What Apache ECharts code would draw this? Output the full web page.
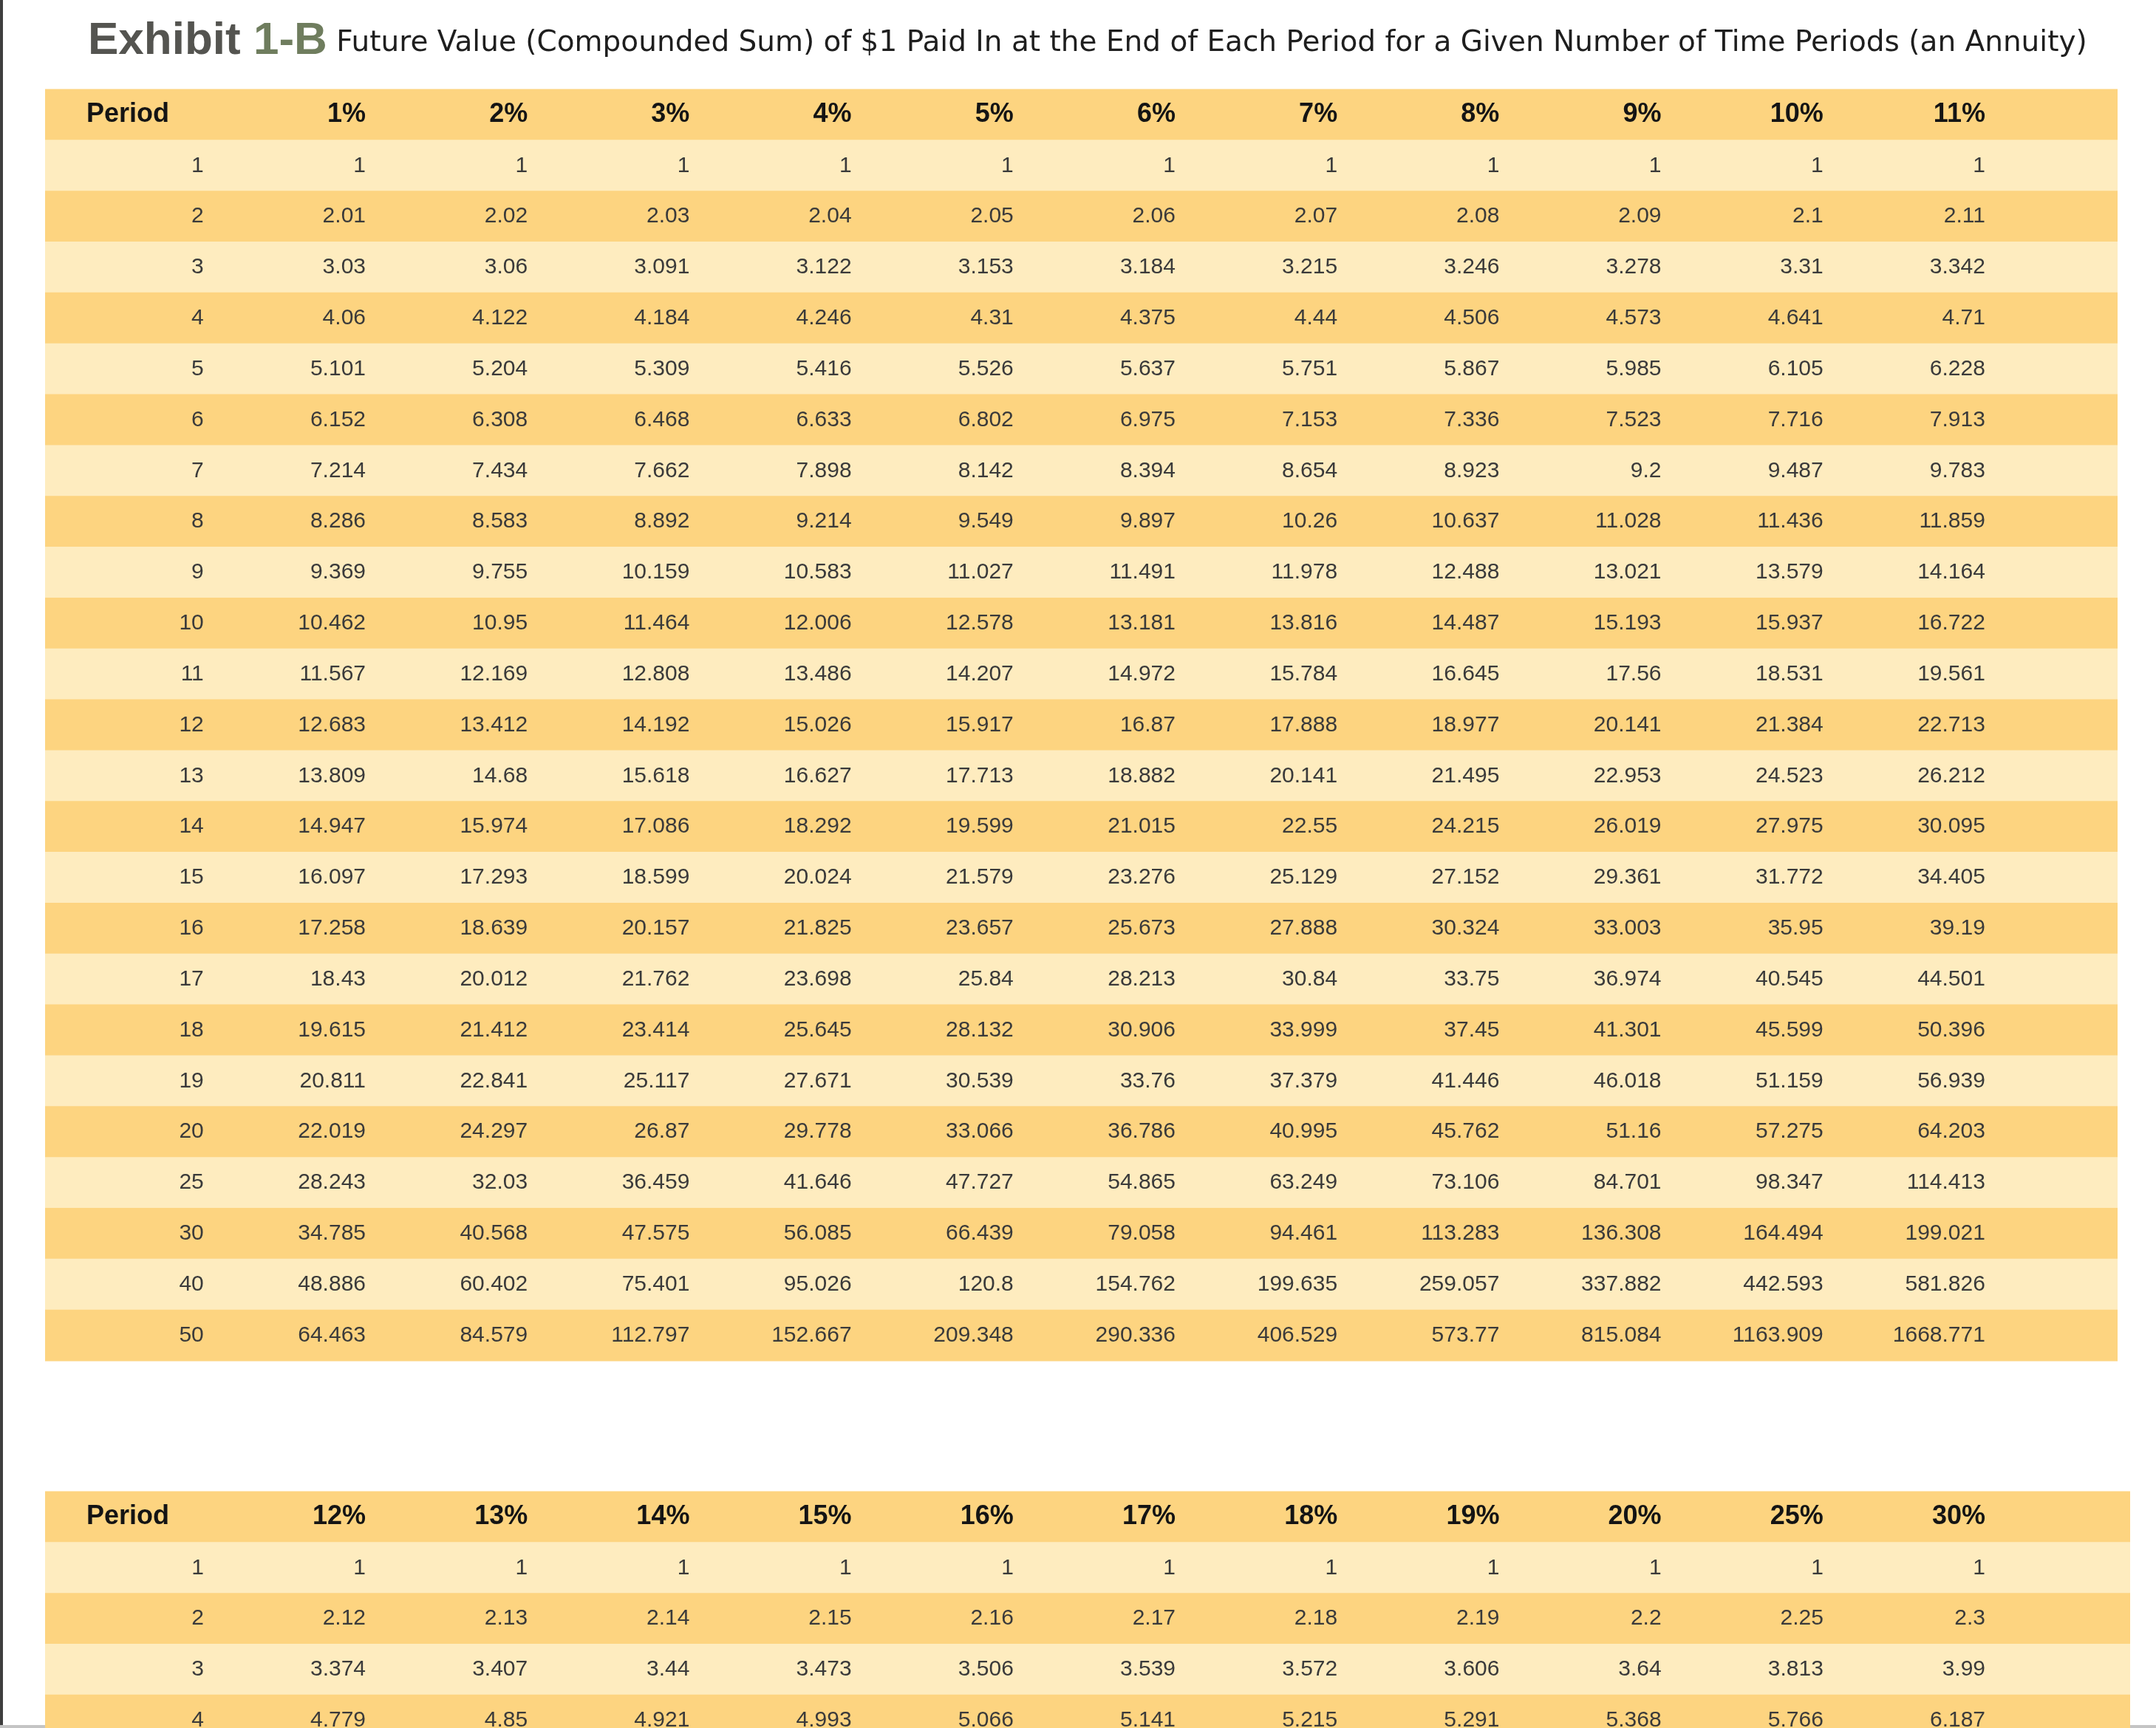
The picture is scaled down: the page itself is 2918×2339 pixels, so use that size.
<!DOCTYPE html>
<html>
<head>
<meta charset="utf-8">
<title>Exhibit 1-B</title>
<script src="https://cdn.jsdelivr.net/npm/echarts@6.0.0/dist/echarts.min.js"></script>
<style>
  html, body { margin: 0; padding: 0; background: #fff; }
  #chart { width: 2918px; height: 2339px; }
</style>
</head>
<body>
<div id="chart"></div>
<script>
// first table: 1% .. 11%
const periods1 = [1, 2, 3, 4, 5, 6, 7, 8, 9, 10, 11, 12, 13, 14, 15, 16, 17, 18, 19, 20, 25, 30, 40, 50];
const rates1 = ['1%', '2%', '3%', '4%', '5%', '6%', '7%', '8%', '9%', '10%', '11%'];
const fv1 = [1, 2.01, 3.03, 4.06, 5.101, 6.152, 7.214, 8.286, 9.369, 10.462, 11.567, 12.683, 13.809, 14.947, 16.097, 17.258, 18.43, 19.615, 20.811, 22.019, 28.243, 34.785, 48.886, 64.463];
const fv2 = [1, 2.02, 3.06, 4.122, 5.204, 6.308, 7.434, 8.583, 9.755, 10.95, 12.169, 13.412, 14.68, 15.974, 17.293, 18.639, 20.012, 21.412, 22.841, 24.297, 32.03, 40.568, 60.402, 84.579];
const fv3 = [1, 2.03, 3.091, 4.184, 5.309, 6.468, 7.662, 8.892, 10.159, 11.464, 12.808, 14.192, 15.618, 17.086, 18.599, 20.157, 21.762, 23.414, 25.117, 26.87, 36.459, 47.575, 75.401, 112.797];
const fv4 = [1, 2.04, 3.122, 4.246, 5.416, 6.633, 7.898, 9.214, 10.583, 12.006, 13.486, 15.026, 16.627, 18.292, 20.024, 21.825, 23.698, 25.645, 27.671, 29.778, 41.646, 56.085, 95.026, 152.667];
const fv5 = [1, 2.05, 3.153, 4.31, 5.526, 6.802, 8.142, 9.549, 11.027, 12.578, 14.207, 15.917, 17.713, 19.599, 21.579, 23.657, 25.84, 28.132, 30.539, 33.066, 47.727, 66.439, 120.8, 209.348];
const fv6 = [1, 2.06, 3.184, 4.375, 5.637, 6.975, 8.394, 9.897, 11.491, 13.181, 14.972, 16.87, 18.882, 21.015, 23.276, 25.673, 28.213, 30.906, 33.76, 36.786, 54.865, 79.058, 154.762, 290.336];
const fv7 = [1, 2.07, 3.215, 4.44, 5.751, 7.153, 8.654, 10.26, 11.978, 13.816, 15.784, 17.888, 20.141, 22.55, 25.129, 27.888, 30.84, 33.999, 37.379, 40.995, 63.249, 94.461, 199.635, 406.529];
const fv8 = [1, 2.08, 3.246, 4.506, 5.867, 7.336, 8.923, 10.637, 12.488, 14.487, 16.645, 18.977, 21.495, 24.215, 27.152, 30.324, 33.75, 37.45, 41.446, 45.762, 73.106, 113.283, 259.057, 573.77];
const fv9 = [1, 2.09, 3.278, 4.573, 5.985, 7.523, 9.2, 11.028, 13.021, 15.193, 17.56, 20.141, 22.953, 26.019, 29.361, 33.003, 36.974, 41.301, 46.018, 51.16, 84.701, 136.308, 337.882, 815.084];
const fv10 = [1, 2.1, 3.31, 4.641, 6.105, 7.716, 9.487, 11.436, 13.579, 15.937, 18.531, 21.384, 24.523, 27.975, 31.772, 35.95, 40.545, 45.599, 51.159, 57.275, 98.347, 164.494, 442.593, 1163.909];
const fv11 = [1, 2.11, 3.342, 4.71, 6.228, 7.913, 9.783, 11.859, 14.164, 16.722, 19.561, 22.713, 26.212, 30.095, 34.405, 39.19, 44.501, 50.396, 56.939, 64.203, 114.413, 199.021, 581.826, 1668.771];

// second table: 12% .. 30% (only the first rows are visible)
const periods2 = [1, 2, 3, 4];
const rates2 = ['12%', '13%', '14%', '15%', '16%', '17%', '18%', '19%', '20%', '25%', '30%'];
const fv12 = [1, 2.12, 3.374, 4.779];
const fv13 = [1, 2.13, 3.407, 4.85];
const fv14 = [1, 2.14, 3.44, 4.921];
const fv15 = [1, 2.15, 3.473, 4.993];
const fv16 = [1, 2.16, 3.506, 5.066];
const fv17 = [1, 2.17, 3.539, 5.141];
const fv18 = [1, 2.18, 3.572, 5.215];
const fv19 = [1, 2.19, 3.606, 5.291];
const fv20 = [1, 2.2, 3.64, 5.368];
const fv25 = [1, 2.25, 3.813, 5.766];
const fv30 = [1, 2.3, 3.99, 6.187];

const cols1 = [fv1, fv2, fv3, fv4, fv5, fv6, fv7, fv8, fv9, fv10, fv11];
const cols2 = [fv12, fv13, fv14, fv15, fv16, fv17, fv18, fv19, fv20, fv25, fv30];

const DARK = '#fdd480';
const LIGHT = '#feecbf';
const ROW_H = 68.84;

function buildRows(periods, cols) {
  return periods.map((p, i) => [p].concat(cols.map(c => c[i])));
}

// one band per row (header = row 0), cells placed by the axes
function tableSeries(idx, rates, rows) {
  const header = ['Period'].concat(rates);
  const data = [[0, 0]];
  rows.forEach((r, i) => data.push([0, i + 1]));
  return {
    type: 'custom',
    xAxisIndex: idx,
    yAxisIndex: idx,
    silent: true,
    clip: false,
    data: data,
    renderItem: function (params, api) {
      const i = api.value(1);
      const cs = params.coordSys;
      const bandH = api.size([0, 1])[1];
      const cy = api.coord([0, i])[1];
      const cells = i === 0 ? header : rows[i - 1];
      const children = [{
        type: 'rect',
        shape: { x: cs.x, y: cy - bandH / 2 - 0.5, width: cs.width, height: bandH + 1 },
        style: { fill: i % 2 ? LIGHT : DARK }
      }];
      cells.forEach(function (c, k) {
        const isHead = i === 0;
        const left = isHead && k === 0;
        children.push({
          type: 'text',
          style: {
            text: String(c),
            x: left ? cs.x + 56 : api.coord([k, i])[0],
            y: cy,
            align: left ? 'left' : 'right',
            verticalAlign: 'middle',
            fontFamily: 'Liberation Sans, Arial, sans-serif',
            fontSize: isHead ? 36 : 30,
            fontWeight: isHead ? 'bold' : 'normal',
            fill: isHead ? '#141414' : '#3a3a3a'
          }
        });
      });
      return { type: 'group', children: children };
    }
  };
}

const rows1 = buildRows(periods1, cols1);
const rows2 = buildRows(periods2, cols2);

const myChart = echarts.init(document.getElementById('chart'));
const option = {
  backgroundColor: '#fff',
  animation: false,
  title: {
    left: 114,
    top: 20,
    text: '{a|Exhibit }{b|1-B}{c| Future Value (Compounded Sum) of $1 Paid In at the End of Each Period for a Given Number of Time Periods (an Annuity)}',
    textStyle: {
      rich: {
        a: { fontFamily: 'Liberation Sans, Arial', fontWeight: 'bold', fontSize: 62, color: '#545450', padding: [0, 0, 6, 0] },
        b: { fontFamily: 'Liberation Sans, Arial', fontWeight: 'bold', fontSize: 62, color: '#6f7d5e', padding: [0, 0, 6, 0] },
        c: { fontFamily: 'DejaVu Sans, Verdana', fontWeight: 'normal', fontSize: 39, color: '#1e1e1e' }
      }
    }
  },
  graphic: [
    { type: 'rect', left: 0, top: 0, shape: { width: 4, height: 2339 }, style: { fill: '#3f3f3f' } },
    { type: 'rect', left: 0, bottom: 0, shape: { width: 2918, height: 4 }, style: { fill: '#c4c4c4' } }
  ],
  grid: [
    { left: 61, right: 52, top: 121, height: ROW_H * 25 },
    { left: 61, right: 35, top: 2019, height: 2339 - 2019 }
  ],
  xAxis: [
    { gridIndex: 0, type: 'value', min: -0.98, max: 11.817, show: false },
    { gridIndex: 1, type: 'value', min: -0.98, max: 11.894, show: false }
  ],
  yAxis: [
    { gridIndex: 0, type: 'value', inverse: true, min: -0.5, max: 24.5, show: false },
    { gridIndex: 1, type: 'value', inverse: true, min: -0.5, max: -0.5 + (2339 - 2019) / ROW_H, show: false }
  ],
  series: [
    tableSeries(0, rates1, rows1),
    tableSeries(1, rates2, rows2)
  ]
};
myChart.setOption(option);
window.addEventListener('resize', () => { myChart.resize() });
</script>
</body>
</html>
